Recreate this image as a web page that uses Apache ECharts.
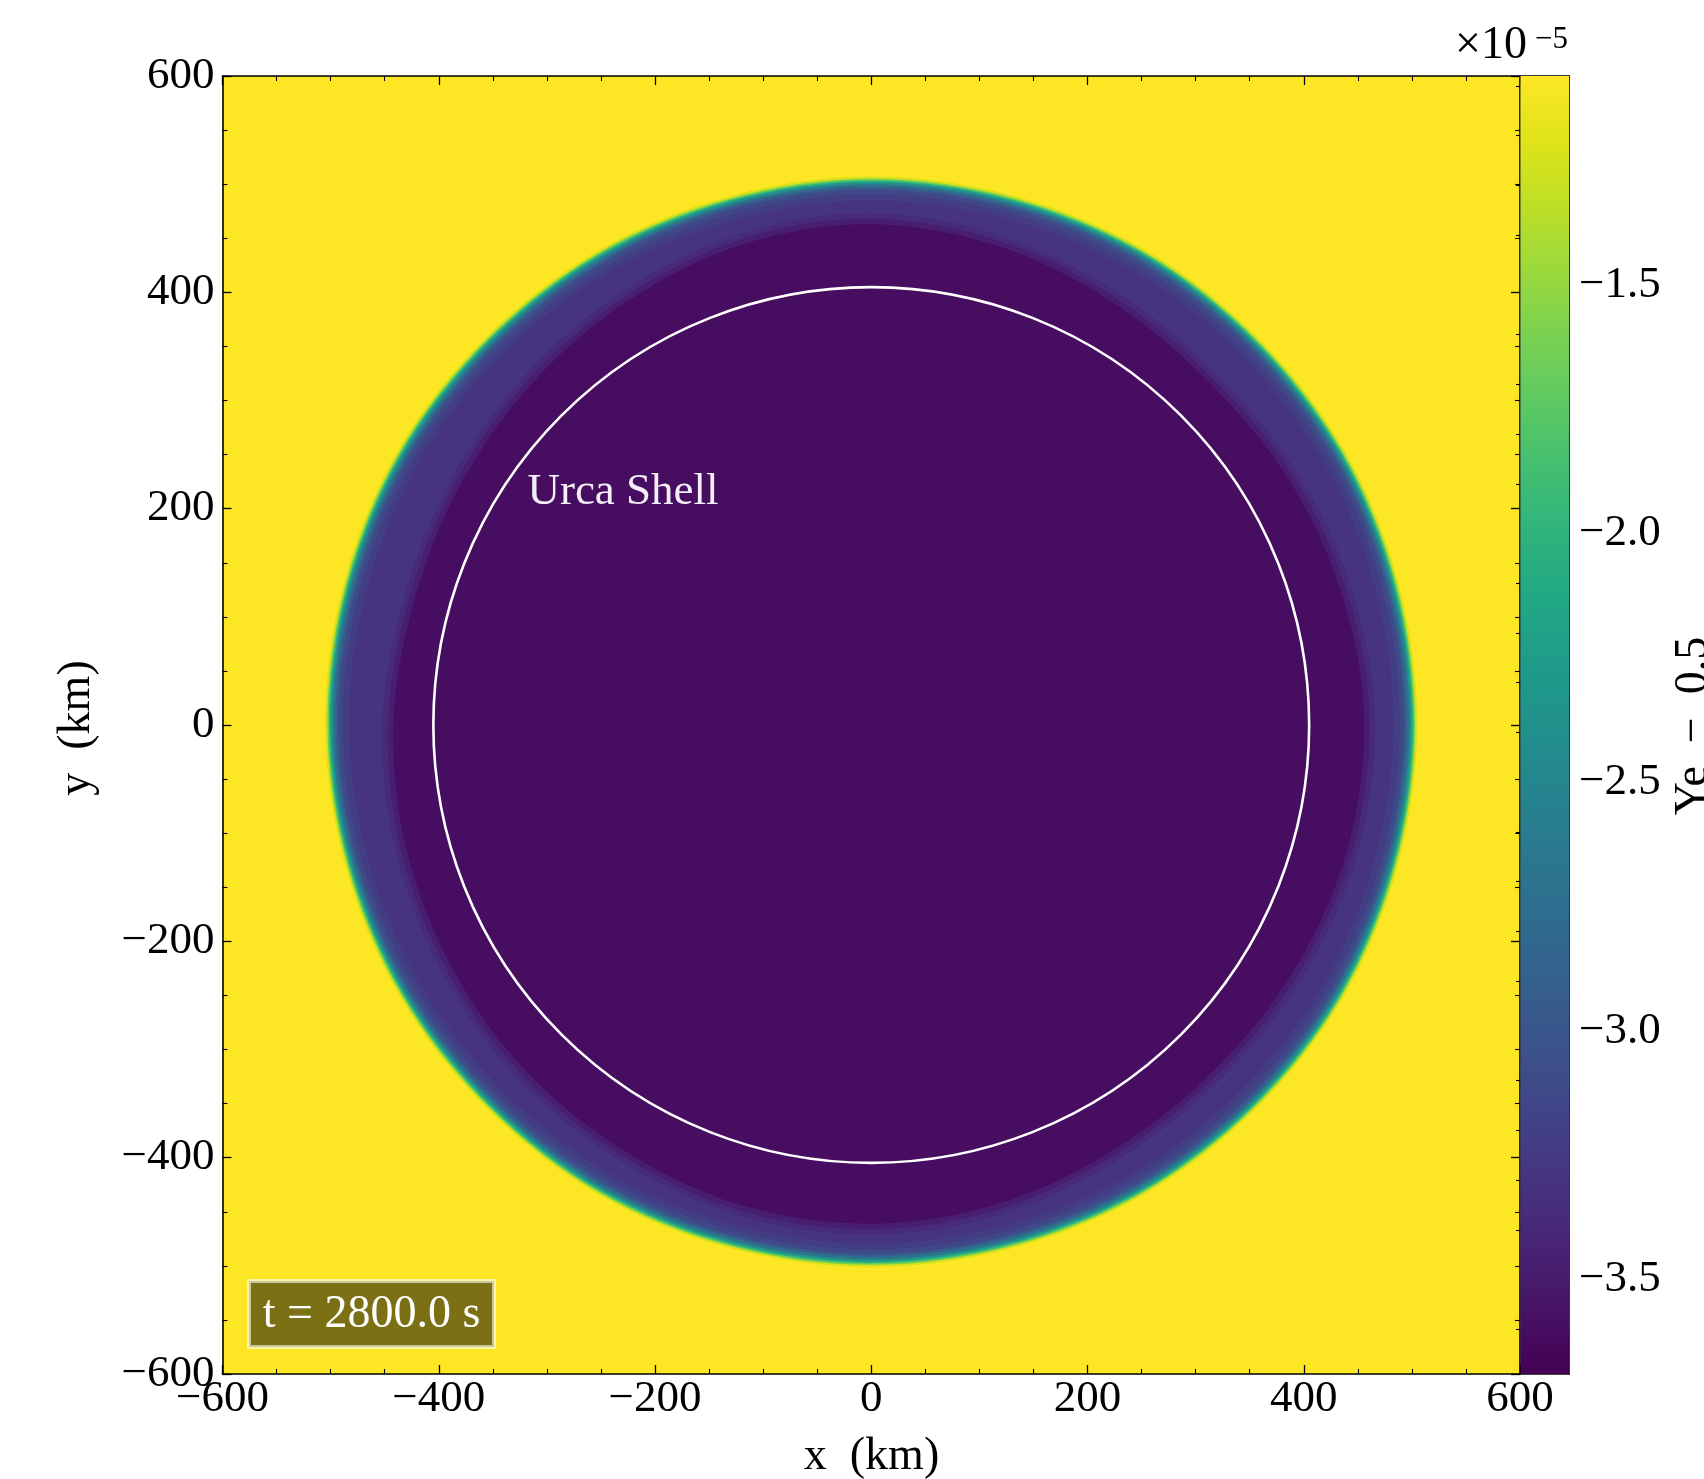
<!DOCTYPE html>
<html>
<head>
<meta charset="utf-8">
<script src="https://cdn.jsdelivr.net/npm/echarts@6/dist/echarts.min.js"></script>
<style>
html,body{margin:0;padding:0;background:#fff;}
#chart{width:1704px;height:1479px;}
</style>
</head>
<body>
<div id="chart"></div>
<script>
// ---------------- data ----------------
const xRange = [-600, 600];                       // km
const yRange = [-600, 600];                       // km
const axisTickStep = 200;
const cbRange = [-3.69, -1.08];                   // Ye - 0.5, units of 1e-5
const cbMajorTicks = [-3.5, -3.0, -2.5, -2.0, -1.5];
const cbMinorTicks = [-3.6, -3.4, -3.3, -3.2, -3.1, -2.9, -2.8, -2.7, -2.6, -2.4, -2.3, -2.2, -2.1,
                      -1.9, -1.8, -1.7, -1.6, -1.4, -1.3, -1.2, -1.1];
const cbExponentBase = '\u00d710';
const cbExponent = '\u22125';

// outer (burning-front) edge radius vs polar angle
const edgeAngleDeg  = [0, 30, 60, 90, 120, 150, 180, 210, 240, 270, 300, 330];
const edgeRadiusKm  = [498, 499, 500, 500, 499, 499, 498, 496, 495, 494, 495, 497];
// inner edge of the lighter band vs polar angle
const bandAngleDeg  = [0, 15, 30, 45, 60, 75, 90, 105, 120, 135, 150, 165,
                       180, 195, 210, 225, 240, 255, 270, 285, 300, 315, 330, 345];
const bandInnerRadiusKm = [456, 452, 448, 445, 450, 458, 463, 460, 452, 445, 440, 438,
                           442, 445, 448, 452, 455, 460, 461, 458, 452, 450, 452, 455];
// radial profile across the outer edge (offset from edge radius, km) and its value
const edgeOffsetKm = [7, 5, 3.5, 2, 0, -2.5, -5, -9, -15];
const edgeValue    = [-1.25, -1.65, -2.0, -2.35, -2.7, -2.95, -3.12, -3.22, -3.3];
// radial profile across the band's inner edge and the core value
const coreOffsetKm = [10, 5, 0];
const coreValue    = [-3.38, -3.47, -3.6];

const urcaShellRadiusKm = 405;
const urcaLabel = 'Urca Shell';
const urcaLabelAt = [-318, 215];
const timeLabel = 't = 2800.0 s';
const xTitle = 'x  (km)';
const yTitle = 'y  (km)';
const cbTitle = 'Ye  \u2212  0.5';

// ---------------- styling ----------------
const viridis = ['#440154','#471365','#482475','#463480','#414487','#3b528b','#355f8d','#2f6c8e',
  '#2a788e','#25848e','#21918c','#1e9c89','#22a884','#2fb47c','#44bf70','#5ec962','#7ad151',
  '#9bd93c','#bddf26','#dfe318','#fde725'];
const FONT = '"Liberation Serif", "Times New Roman", serif';
const FS = 45;
const fmt = (v, d) => (v < 0 ? '\u2212' : '') + Math.abs(v).toFixed(d);

const G = {left: 222.5, top: 76, width: 1297.5, height: 1298};
const CB = {left: 1520.5, top: 76, width: 48.5, height: 1298};

const layerData = [];
edgeOffsetKm.forEach((o, i) => layerData.push([edgeValue[i], o, 0]));
coreOffsetKm.forEach((o, i) => layerData.push([coreValue[i], o, 1]));

const lineStyle = {color: '#000', width: 1.6};
function mainAxis(extra) {
  return Object.assign({
    type: 'value', gridIndex: 0, interval: axisTickStep,
    axisLine: {show: true, onZero: false, lineStyle},
    axisTick: {show: true, inside: true, length: 9, lineStyle: {color: '#000', width: 1.3}},
    minorTick: {show: true, splitNumber: 4, length: 5, lineStyle: {color: '#000', width: 1.1}},
    splitLine: {show: false}, minorSplitLine: {show: false},
  }, extra);
}
const labelStyle = {color: '#000', fontFamily: FONT, fontSize: FS};

const option = {
  backgroundColor: '#fff',
  animation: false,
  grid: [
    Object.assign({show: true, backgroundColor: viridis[viridis.length - 1], borderWidth: 0}, G),
    Object.assign({show: false}, CB)
  ],
  visualMap: {
    type: 'continuous', show: false, seriesIndex: 0, dimension: 0,
    min: cbRange[0], max: cbRange[1], inRange: {color: viridis}
  },
  xAxis: [
    mainAxis({position: 'bottom', min: xRange[0], max: xRange[1],
      axisLabel: Object.assign({show: true, margin: 3, formatter: v => fmt(v, 0)}, labelStyle)}),
    mainAxis({position: 'top', min: xRange[0], max: xRange[1], axisLabel: {show: false}}),
    {type: 'value', gridIndex: 1, position: 'bottom', min: 0, max: 1,
      axisLine: {show: true, onZero: false, lineStyle}, axisTick: {show: false},
      axisLabel: {show: false}, splitLine: {show: false}},
    {type: 'value', gridIndex: 1, position: 'top', min: 0, max: 1,
      axisLine: {show: true, onZero: false, lineStyle}, axisTick: {show: false},
      axisLabel: {show: false}, splitLine: {show: false}}
  ],
  yAxis: [
    mainAxis({position: 'left', min: yRange[0], max: yRange[1],
      axisLabel: Object.assign({show: true, margin: 8, formatter: v => fmt(v, 0)}, labelStyle)}),
    mainAxis({position: 'right', min: yRange[0], max: yRange[1], axisLabel: {show: false}}),
    {type: 'value', gridIndex: 1, position: 'right', min: cbRange[0], max: cbRange[1],
      axisLine: {show: true, onZero: false, lineStyle},
      axisTick: {show: true, inside: true, length: 8, customValues: cbMajorTicks,
        lineStyle: {color: '#000', width: 1.3}},
      axisLabel: Object.assign({show: true, margin: 10, customValues: cbMajorTicks,
        formatter: v => fmt(v, 1)}, labelStyle),
      splitLine: {show: false}},
    {type: 'value', gridIndex: 1, position: 'right', min: cbRange[0], max: cbRange[1],
      axisLine: {show: false},
      axisTick: {show: true, inside: true, length: 4.5, customValues: cbMinorTicks,
        lineStyle: {color: '#000', width: 1.1}},
      axisLabel: {show: false}, splitLine: {show: false}}
  ],
  series: [
    {
      type: 'custom', name: 'field', xAxisIndex: 0, yAxisIndex: 0,
      data: layerData, clip: true, z: 1,
      renderItem(params, api) {
        const off = api.value(1);
        const base = api.value(2) === 0 ? edgeRadiusKm : bandInnerRadiusKm;
        const ang = api.value(2) === 0 ? edgeAngleDeg : bandAngleDeg;
        const pts = base.map((r, i) => {
          const a = ang[i] * Math.PI / 180;
          const rr = r + off;
          return api.coord([rr * Math.cos(a), rr * Math.sin(a)]);
        });
        return {type: 'polygon', shape: {points: pts, smooth: 0.34},
                style: {fill: api.visual('color')}};
      }
    },
    {
      type: 'custom', name: 'urca', xAxisIndex: 0, yAxisIndex: 0,
      data: [[urcaShellRadiusKm]], z: 3,
      renderItem(params, api) {
        const r = api.value(0);
        const c = api.coord([0, 0]);
        const s = api.size([r, r]);
        const t = api.coord(urcaLabelAt);
        return {type: 'group', children: [
          {type: 'circle', shape: {cx: c[0], cy: c[1], r: s[0]},
           style: {fill: 'none', stroke: '#fff', lineWidth: 2.6}},
          {type: 'text', x: t[0], y: t[1],
           style: {text: urcaLabel, fill: '#f4eef6', font: '45px ' + FONT,
                   align: 'left', verticalAlign: 'middle'}}
        ]};
      }
    },
    {
      type: 'custom', name: 'colorbar', xAxisIndex: 2, yAxisIndex: 2,
      data: [[0, cbRange[0], 1, cbRange[1]]], z: 1,
      renderItem(params, api) {
        const p0 = api.coord([api.value(0), api.value(3)]);
        const p1 = api.coord([api.value(2), api.value(1)]);
        return {type: 'rect', shape: {x: p0[0], y: p0[1], width: p1[0] - p0[0], height: p1[1] - p0[1]},
          style: {fill: new echarts.graphic.LinearGradient(0, 1, 0, 0,
            viridis.map((c, i) => ({offset: i / (viridis.length - 1), color: c})))}};
      }
    }
  ],
  graphic: [
    {type: 'rect', z: 100, shape: {x: 249, y: 1281, width: 245, height: 66},
     style: {fill: '#7b7114', stroke: 'rgba(255,255,255,0.6)', lineWidth: 4}},
    {type: 'text', z: 101, x: 371.5, y: 1315,
     style: {text: timeLabel, fill: '#fff', font: '46px ' + FONT, align: 'center', verticalAlign: 'middle'}},
    {type: 'text', z: 100, x: 871.5, y: 1457,
     style: {text: xTitle, fill: '#000', font: '46px ' + FONT, align: 'center', verticalAlign: 'middle'}},
    {type: 'text', z: 100, x: 77, y: 728, rotation: Math.PI / 2,
     style: {text: yTitle, fill: '#000', font: '46px ' + FONT, align: 'center', verticalAlign: 'middle'}},
    {type: 'text', z: 100, x: 1694, y: 726, rotation: Math.PI / 2,
     style: {text: cbTitle, fill: '#000', font: '46px ' + FONT, align: 'center', verticalAlign: 'middle'}},
    {type: 'text', z: 100, x: 1455, y: 69,
     style: {text: cbExponentBase, fill: '#000', font: '46px ' + FONT, align: 'left', verticalAlign: 'bottom'}},
    {type: 'text', z: 100, x: 1535, y: 55,
     style: {text: cbExponent, fill: '#000', font: '31px ' + FONT, align: 'left', verticalAlign: 'bottom'}}
  ]
};

const chart = echarts.init(document.getElementById('chart'), null, {renderer: 'canvas'});
chart.setOption(option);
</script>
</body>
</html>
